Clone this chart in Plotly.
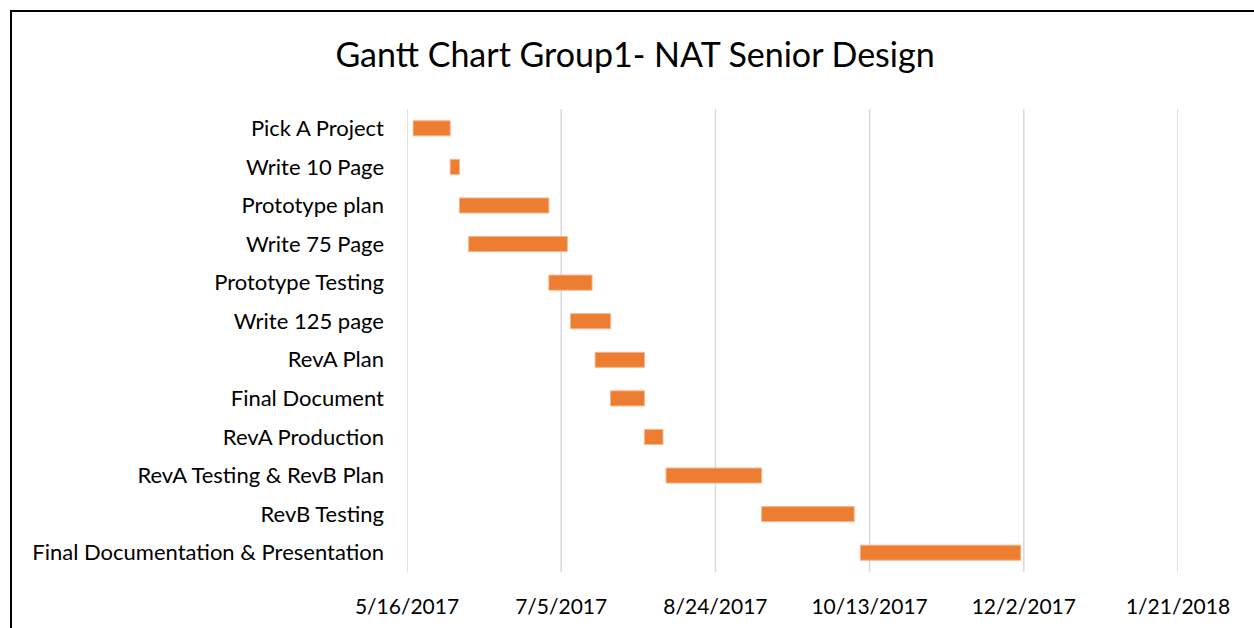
import plotly.graph_objects as go

# Task list, top to bottom
tasks = [
    "Pick A Project",
    "Write 10 Page",
    "Prototype plan",
    "Write 75 Page",
    "Prototype Testing",
    "Write 125 page",
    "RevA Plan",
    "Final Document",
    "RevA Production",
    "RevA Testing & RevB Plan",
    "RevB Testing",
    "Final Documentation & Presentation",
]
start_dates = [
    "2017-05-18", "2017-05-30", "2017-06-02", "2017-06-05",
    "2017-07-01", "2017-07-08", "2017-07-16", "2017-07-21",
    "2017-08-01", "2017-08-08", "2017-09-08", "2017-10-10",
]
duration_days = [12, 3, 29, 32, 14, 13, 16, 11, 6, 31, 30, 52]

tick_dates = ["2017-05-16", "2017-07-05", "2017-08-24", "2017-10-13", "2017-12-02", "2018-01-21"]
tick_labels = ["5/16/2017", "7/5/2017", "8/24/2017", "10/13/2017", "12/2/2017", "1/21/2018"]

W, H = 1254, 628
ML, MR, MT, MB = 407, 76, 109, 56
FONT = "Lato"

ms_per_day = 86400000
fig = go.Figure(
    go.Bar(
        y=tasks,
        x=[d * ms_per_day for d in duration_days],
        base=start_dates,
        orientation="h",
        width=0.39,
        marker=dict(color="#ED7D31", line=dict(color="#F6B48A", width=1)),
        hoverinfo="skip",
    )
)

# vertical gridlines at every major date tick, including both ends
for d in tick_dates:
    fig.add_shape(
        type="line", xref="x", yref="paper",
        x0=d, x1=d, y0=0, y1=1,
        line=dict(color="#D9D9D9", width=1.5), layer="below",
    )

# outer chart frame (runs off the right and bottom edges)
pw, ph = W - ML - MR, H - MT - MB
def px_x(p):
    return (p - ML) / pw
def px_y(p):
    return (H - MB - p) / ph

fig.add_shape(
    type="rect", xref="paper", yref="paper",
    x0=px_x(11), x1=px_x(W + 20), y0=px_y(H + 20), y1=px_y(11),
    line=dict(color="black", width=2), fillcolor="rgba(0,0,0,0)", layer="above",
)

fig.update_layout(
    width=W, height=H,
    margin=dict(l=ML, r=MR, t=MT, b=MB, autoexpand=False),
    paper_bgcolor="white", plot_bgcolor="white",
    showlegend=False,
    title=dict(
        text="Gantt Chart Group1- NAT Senior Design",
        x=(338 + 932) / 2 / W, xanchor="center",
        y=1 - 55 / H, yanchor="middle",
        font=dict(family=FONT, size=34, color="#000000"),
    ),
    font=dict(family=FONT, color="#000000"),
)
fig.update_xaxes(
    type="date",
    range=[tick_dates[0], tick_dates[-1]],
    tickvals=tick_dates, ticktext=tick_labels,
    showgrid=False, zeroline=False, showline=False, ticks="",
    ticklabelstandoff=20,
    tickfont=dict(family=FONT, size=21, color="#000000"),
    fixedrange=True,
)
fig.update_yaxes(
    autorange="reversed",
    categoryorder="array", categoryarray=tasks,
    showgrid=False, zeroline=False, showline=False, ticks="",
    ticklabelstandoff=22,
    tickfont=dict(family=FONT, size=22, color="#000000"),
    fixedrange=True,
)

fig.write_html("out.html", config={"displayModeBar": False})
